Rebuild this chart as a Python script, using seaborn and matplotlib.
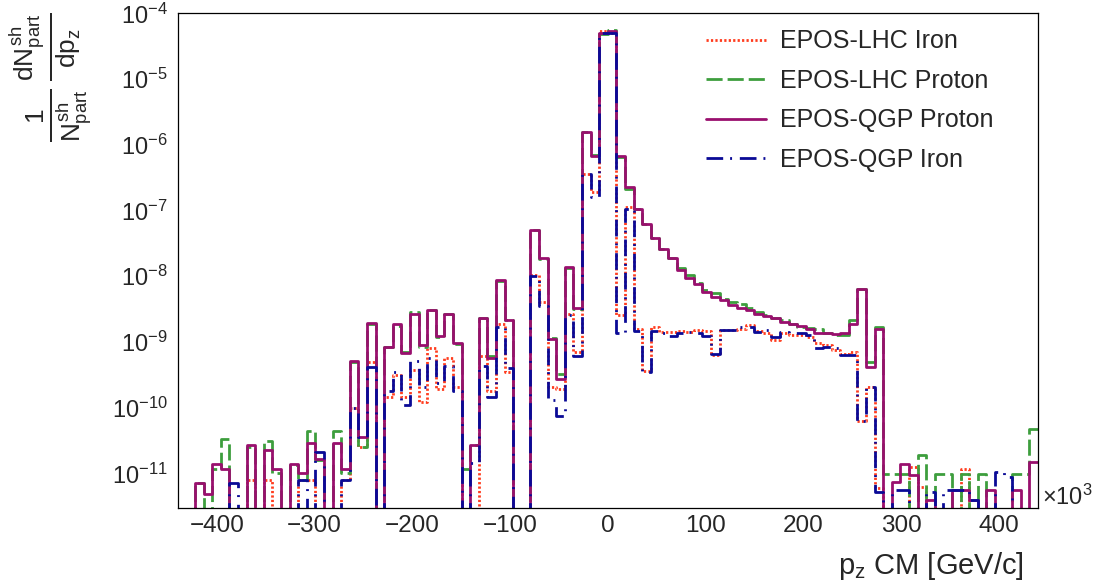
import numpy as np
import pandas as pd
import matplotlib
matplotlib.use("Agg")
import matplotlib.pyplot as plt
import matplotlib.ticker as mticker
import seaborn as sns

nan = np.nan

# 100 bins between -440 and 440 (x10^3 GeV/c)
bin_edges = np.linspace(-440, 440, 101)

# log10 of the bin contents, nan = empty bin
lhc_iron = [
    nan, nan, nan, nan, nan, nan, nan, nan, -11.1, nan,
    -11.1, nan, nan, nan, -11.1, -11.1, nan, nan, nan, -11.1,
    -10.0, -10.6, -9.30, nan, -9.84, -9.51, -9.84, -9.43, -9.91, -9.10,
    -9.71, -9.25, -9.69, nan, nan, -9.22, -9.74, -8.72, -9.46, nan,
    nan, -7.98, -8.39, -9.69, -9.71, -8.57, -9.16, -6.45, -6.72, -4.27,
    -4.30, -8.59, -6.94, -8.81, -9.45, -8.78, -8.85, -8.85, -8.83, -8.85,
    -8.82, -8.84, -9.20, -8.82, -8.82, -8.80, -8.74, -8.83, -8.87, -8.97,
    -8.86, -8.90, -8.90, -8.93, -9.02, -9.05, -9.12, -9.18, -9.16, -10.20,
    -9.69, -11.22, nan, nan, nan, -10.9, -11.2, nan, nan, nan,
    nan, -10.93, nan, nan, nan, nan, nan, nan, nan, nan,
]
lhc_proton = [
    nan, nan, -11.14, nan, -10.93, -10.47, nan, nan, -10.60, nan,
    -10.50, -11.0, nan, -10.88, -11.1, -10.35, -10.80, nan, -10.35, -11.0,
    -9.30, -10.60, -8.72, nan, -9.08, -8.76, -9.16, -8.55, -9.07, -8.52,
    -8.93, -8.58, -9.03, -10.93, -10.57, -8.64, -9.22, -8.08, -8.66, nan,
    nan, -7.30, -7.74, -8.94, -9.49, -7.88, -8.50, -5.80, -6.16, -4.32,
    -4.26, -6.19, -6.67, -6.97, -7.20, -7.42, -7.58, -7.72, -7.88, -7.98,
    -8.10, -8.21, -8.26, -8.34, -8.39, -8.43, -8.49, -8.54, -8.59, -8.63,
    -8.67, -8.73, -8.77, -8.79, -8.80, -8.87, -8.89, -8.90, -8.67, -8.20,
    -9.30, -8.77, -11.01, -11.01, -11.01, nan, -10.72, nan, -11.01, -11.01,
    nan, -11.01, nan, -11.01, nan, nan, nan, -11.01, -11.01, -10.32,
]
qgp_proton = [
    nan, nan, -11.14, -11.32, -10.85, -10.93, nan, nan, -10.57, nan,
    -10.65, -10.93, nan, -10.85, -11.0, -10.54, -10.78, nan, -10.54, -10.93,
    -9.29, -10.44, -8.71, nan, -9.08, -8.73, -9.17, -8.58, -9.05, -8.52,
    -8.91, -8.58, -9.02, nan, -10.57, -8.64, -9.24, -8.06, -8.66, nan,
    nan, -7.29, -7.73, -8.95, -9.57, -7.86, -8.49, -5.80, -6.17, -4.30,
    -4.27, -6.17, -6.65, -6.97, -7.20, -7.42, -7.58, -7.73, -7.90, -8.02,
    -8.12, -8.24, -8.31, -8.36, -8.44, -8.48, -8.52, -8.57, -8.61, -8.64,
    -8.69, -8.73, -8.76, -8.81, -8.87, -8.87, -8.88, -8.86, -8.73, -8.20,
    -9.38, -8.81, nan, -11.13, -10.86, -11.03, nan, -11.41, nan, nan,
    -11.25, -11.25, -11.41, nan, -11.25, nan, nan, -11.25, nan, -10.83,
]
qgp_iron = [
    nan, nan, nan, nan, nan, nan, -11.14, nan, nan, nan,
    nan, nan, nan, nan, -11.1, nan, -10.67, nan, nan, -11.1,
    -10.0, -10.45, -9.38, nan, -9.74, -9.46, -9.96, -9.29, -9.69, -9.25,
    -9.62, -9.36, -9.74, nan, -10.84, -9.36, -9.84, -8.77, -9.40, nan,
    nan, -8.00, -8.46, -9.89, -10.12, -8.59, -9.21, -6.45, -6.80, -4.30,
    -4.30, -8.87, -6.97, -8.83, -9.46, -8.84, -8.87, -8.91, -8.87, -8.85,
    -8.87, -8.91, -9.18, -8.82, -8.82, -8.78, -8.77, -8.85, -8.82, -8.92,
    -8.85, -8.86, -8.87, -8.90, -9.10, -9.07, -9.10, -9.20, -9.20, -10.21,
    -9.68, -11.28, nan, -11.25, -11.25, nan, nan, -11.28, nan, -11.25,
    -11.25, -11.25, -11.41, nan, nan, -10.98, -11.05, nan, nan, nan,
]

labels = ["EPOS-LHC Iron", "EPOS-LHC Proton", "EPOS-QGP Proton", "EPOS-QGP Iron"]
colors = ["#ff3c1e", "#3d9e3d", "#990f6e", "#0a0a96"]
styles = [(0, (0.8, 0.8)), (0, (5.8, 1.8)), "-", (0, (6, 2.5, 0.7, 2.8))]

x_ticks = [-400, -300, -200, -100, 0, 100, 200, 300, 400]
y_decades = list(range(-11, -3))

sns.set_theme(style="white")
plt.rcParams["font.family"] = ["Liberation Sans", "DejaVu Sans"]
plt.rcParams["mathtext.fontset"] = "custom"
plt.rcParams["mathtext.rm"] = "Liberation Sans"
plt.rcParams["mathtext.it"] = "Liberation Sans"
plt.rcParams["mathtext.bf"] = "Liberation Sans:bold"

fig = plt.figure(figsize=(10.99, 5.85), dpi=100)
ax = fig.add_axes([0.1617, 0.1321, 0.7828, 0.8451])

for series, lab, col, ls in zip([lhc_iron, lhc_proton, qgp_proton, qgp_iron], labels, colors, styles):
    vals = np.power(10.0, np.array(series))
    vals = np.nan_to_num(vals, nan=0.0)
    df = pd.DataFrame({"pz": bin_edges, "val": np.append(vals, vals[-1])})
    sns.lineplot(data=df, x="pz", y="val", ax=ax, color=col, linestyle=ls,
                 linewidth=2.0, drawstyle="steps-post", errorbar=None,
                 label=lab, legend=False)

ax.set_yscale("log")
ax.set_xlim(-440, 440)
ax.set_ylim(3e-12, 1e-4)
ax.set_xlabel("")
ax.set_ylabel("")

# ticks only inside the visible range
major_y = [10.0 ** d for d in y_decades]
minor_y = [m * 10.0 ** d for d in range(-12, -4) for m in range(2, 10) if 3e-12 <= m * 10.0 ** d <= 1e-4]
minor_x = [v for v in range(-440, 441, 20) if v not in x_ticks]
ax.xaxis.set_major_locator(mticker.FixedLocator(x_ticks))
ax.xaxis.set_minor_locator(mticker.FixedLocator(minor_x))
ax.yaxis.set_major_locator(mticker.FixedLocator(major_y))
ax.yaxis.set_major_formatter(mticker.FixedFormatter([r"$10^{%d}$" % d for d in y_decades]))
ax.yaxis.set_minor_locator(mticker.FixedLocator(minor_y))
ax.yaxis.set_minor_formatter(mticker.NullFormatter())

ax.tick_params(axis="x", which="major", direction="in", length=10, width=0.8, labelsize=17.5, pad=5, top=False)
ax.tick_params(axis="x", which="minor", direction="in", length=5, width=0.8, top=False)
ax.tick_params(axis="y", which="major", direction="in", length=18.5, width=0.8, labelsize=17, pad=7, right=False)
ax.tick_params(axis="y", which="minor", direction="in", length=9.3, width=0.8, right=False)
for sp in ax.spines.values():
    sp.set_linewidth(0.9)
    sp.set_color("black")

ax.legend(loc="upper left", bbox_to_anchor=(0.642, 0.95), bbox_transform=fig.transFigure,
          frameon=False, fontsize=18, handlelength=2.4, handletextpad=0.56,
          labelspacing=0.62, borderpad=0, borderaxespad=0)

fig.text(1024 / 1099, 1 - 566 / 585, r"$\mathregular{p_{z}}$ CM [GeV/c]", ha="right", va="center", fontsize=21)
fig.text(1042 / 1099, 1 - 497 / 585, r"$\times$10$^{3}$", ha="left", va="center", fontsize=17)
fig.text(51 / 1099, 1 - 77 / 585,
         r"$\frac{1}{N^{sh}_{part}}\,\frac{dN^{sh}_{part}}{dp_{z}}$",
         rotation=90, ha="center", va="center", fontsize=27)

fig.savefig("out.png", dpi=100)
